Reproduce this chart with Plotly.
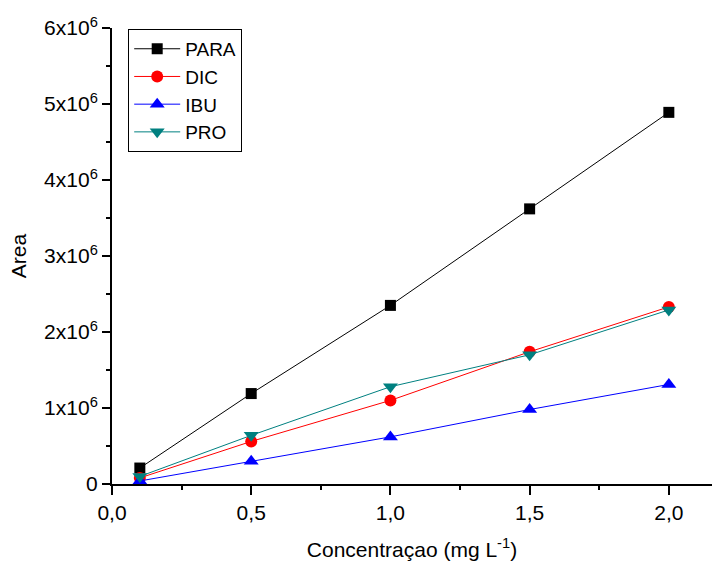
import plotly.graph_objects as go

conc = [0.1, 0.5, 1.0, 1.5, 2.0]
para = [0.21e6, 1.19e6, 2.35e6, 3.62e6, 4.89e6]
dic = [0.08e6, 0.56e6, 1.10e6, 1.74e6, 2.33e6]
ibu = [0.04e6, 0.30e6, 0.62e6, 0.98e6, 1.31e6]
pro = [0.10e6, 0.64e6, 1.28e6, 1.70e6, 2.29e6]

series = [
    ("PARA", para, "black", "square", 11),
    ("DIC", dic, "red", "circle", 12),
    ("IBU", ibu, "blue", "triangle-up", 13),
    ("PRO", pro, "#008080", "triangle-down", 13),
]

y_tickvals = [0, 1e6, 2e6, 3e6, 4e6, 5e6, 6e6]
y_ticktext = ["0"] + [f"{i}x10<sup>6</sup>" for i in range(1, 7)]
x_tickvals = [0.0, 0.5, 1.0, 1.5, 2.0]
x_ticktext = ["0,0", "0,5", "1,0", "1,5", "2,0"]

FAM = "Liberation Sans, Arial, sans-serif"

fig = go.Figure()
for name, vals, color, sym, sz in series:
    fig.add_trace(go.Scatter(
        x=conc, y=vals, name=name, mode="lines+markers",
        line=dict(color=color, width=1),
        marker=dict(symbol=sym, size=sz, color=color),
        cliponaxis=False,
    ))

fig.update_layout(
    width=713, height=561,
    margin=dict(l=112, r=1, t=28, b=77),
    paper_bgcolor="white", plot_bgcolor="white",
    font=dict(family=FAM, size=20, color="black"),
    showlegend=True,
    legend=dict(
        x=0.027, y=0.998, xanchor="left", yanchor="top",
        bordercolor="black", borderwidth=1, bgcolor="white",
        font=dict(family=FAM, size=19, color="black"),
        tracegroupgap=0, itemwidth=46,
    ),
    xaxis=dict(
        range=[0, 2.155], showgrid=False, zeroline=False,
        showline=True, linecolor="black", linewidth=2,
        ticks="outside", ticklen=9, tickwidth=1.5, tickcolor="black",
        tickvals=x_tickvals, ticktext=x_ticktext,
        tickfont=dict(family=FAM, size=21, color="black"),
        minor=dict(ticks="outside", ticklen=4, tickwidth=1.5, tickcolor="black", dtick=0.25, tick0=0),
        title=dict(text="Concentraçao (mg L<sup>-1</sup>)", standoff=22,
                   font=dict(family=FAM, size=21, color="black")),
    ),
    yaxis=dict(
        range=[0, 6e6], showgrid=False, zeroline=False,
        showline=True, linecolor="black", linewidth=2,
        ticks="outside", ticklen=8, tickwidth=1.5, tickcolor="black",
        tickvals=y_tickvals, ticktext=y_ticktext,
        tickfont=dict(family=FAM, size=21, color="black"),
        minor=dict(ticks="outside", ticklen=4, tickwidth=1.5, tickcolor="black", dtick=0.5e6, tick0=0),
        title=dict(text="Area", standoff=12,
                   font=dict(family=FAM, size=21, color="black")),
    ),
)

fig.write_html("out.html")
